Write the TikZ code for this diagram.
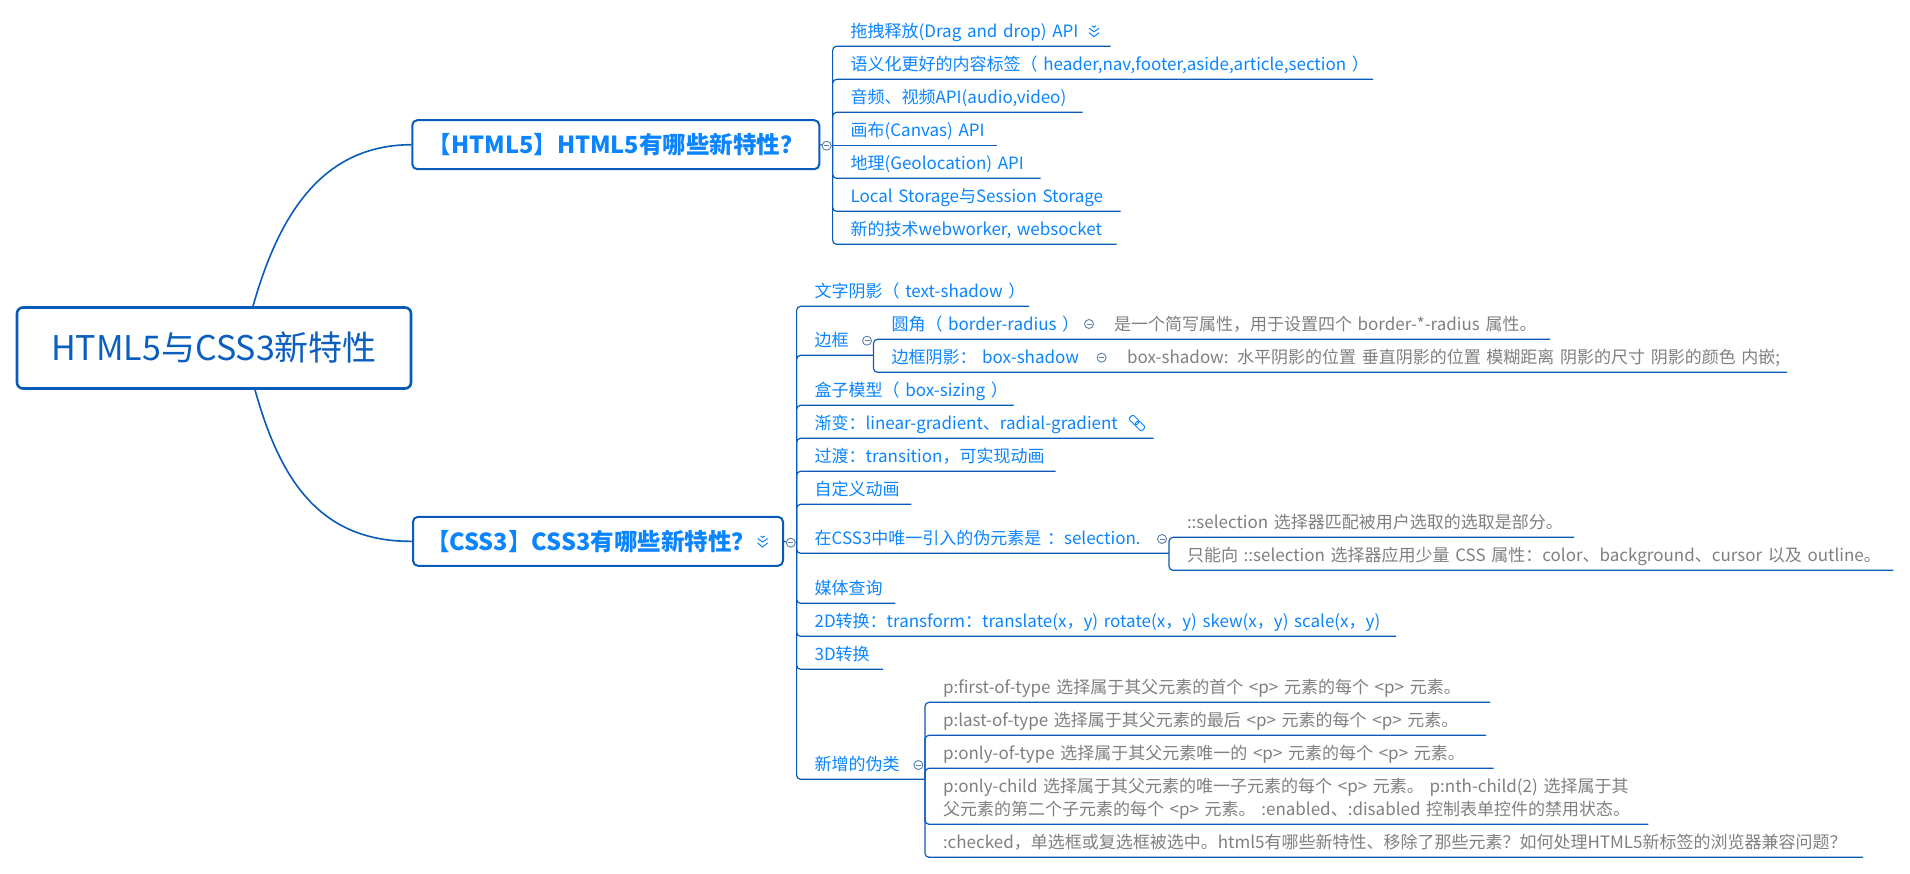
\documentclass[tikz,border=0pt]{standalone}
\usepackage{fontspec}
\setmainfont{Noto Sans CJK SC}
\usepackage{xcolor}
\usetikzlibrary{positioning,calc}
\definecolor{mapLine}{HTML}{0A5BB8}
\definecolor{mapBlue}{HTML}{0A84FF}
\definecolor{mapRoot}{HTML}{0A5EBD}
\definecolor{mapGray}{HTML}{7F7F7F}
\definecolor{mapFold}{HTML}{5B7FA8}
\tikzset{
  rootbox/.style={draw=mapLine, line width=2.6pt, rounded corners=6pt, fill=white, text=mapRoot, font=\fontsize{34}{40}\selectfont},
  topic/.style={draw=mapLine, line width=2pt, rounded corners=5pt, fill=white, text=mapBlue, font=\fontsize{23.5}{28}\bfseries\selectfont},
  stem/.style={anchor=south west, inner xsep=18pt, inner ysep=0pt, outer sep=0pt, text width=#1, align=left,
    text height=15pt, text depth=9pt, text=mapBlue, font=\fontsize{17}{23}\selectfont},
  leaf/.style={stem=#1, execute at begin node=\hbox\bgroup, execute at end node=\egroup},
  note/.style={leaf=#1, text=mapGray},
  branch/.style={draw=mapLine, line width=1.2pt, rounded corners=4pt},
  trunk/.style={draw=mapLine, line width=1.6pt},
  fold/.style={circle, draw=mapFold, fill=white, line width=0.9pt, inner sep=0pt, minimum size=9pt,
    path picture={\draw[mapFold, line width=0.9pt] ([xshift=-2.5pt]path picture bounding box.center) -- ([xshift=2.5pt]path picture bounding box.center);}},
  chevrons/.pic={
    \draw[mapBlue, line width=1pt] (-5,-3.5) -- (0,0) -- (5,-3.5);
    \draw[mapBlue, line width=1pt] (-5,1) -- (0,5) -- (5,1);
    \draw[mapBlue, line width=1pt] (-2,-6) -- (0,-4.5) -- (2,-6);
  },
}
\begin{document}
\begin{tikzpicture}[x=1pt, y=-1pt]
\useasboundingbox (0,0) rectangle (1910,873);
% main boxes
\node[rootbox, minimum width=394pt, minimum height=81pt] (root) at (214,348) {HTML5与CSS3新特性};
\node[topic, minimum width=407pt, minimum height=49pt] (html) at (615.8,144.7) {【HTML5】HTML5有哪些新特性？};
\node[topic, minimum width=370pt, minimum height=49pt] (css) at (598,541.3) {【CSS3】CSS3有哪些新特性？\kern15pt};
\draw[trunk] ([xshift=39pt]root.north) .. controls (278,218) and (320,145) .. (html.west);
\draw[trunk] ([xshift=41pt]root.south) .. controls (280,480) and (320,542) .. (css.west);
% upper group
\node[fold] (foldHtml) at (826.7,145.7) {};
\coordinate (hubHtml) at (832.6,145.3);
\node[leaf=242pt] (drag) at (832.6,46.3) {拖拽释放(Drag and drop) API};
\node[leaf=504.4pt] (semantic) at (832.6,79.3) {语义化更好的内容标签（ header,nav,footer,aside,article,section ）};
\node[leaf=214pt] (media) at (832.6,112.3) {音频、视频API(audio,video)};
\node[leaf=128pt] (canvas) at (832.6,145.3) {画布(Canvas) API};
\node[leaf=172pt] (geo) at (832.6,178.3) {地理(Geolocation) API};
\node[leaf=252pt] (storage) at (832.6,211.3) {Local Storage与Session Storage};
\node[leaf=248pt] (socket) at (832.6,244.3) {新的技术webworker, websocket};
\pic at (1094,31.7) {chevrons};
\draw[branch] (html.east) -- (foldHtml) -- (hubHtml);
\draw[branch] (hubHtml) |- (drag.south east);
\draw[branch] (hubHtml) |- (semantic.south east);
\draw[branch] (hubHtml) |- (media.south east);
\draw[branch] (hubHtml) -- (canvas.south east);
\draw[branch] (hubHtml) |- (geo.south east);
\draw[branch] (hubHtml) |- (storage.south east);
\draw[branch] (hubHtml) |- (socket.south east);
% lower group
\node[fold] (foldCss) at (790.8,542.7) {};
\coordinate (hubCss) at (796.6,542);
\pic at (762.6,542) {chevrons};
\node[leaf=196.4pt] (tshadow) at (796.6,306.3) {文字阴影（ text-shadow ）};
\node[leaf=40.9pt] (border) at (796.6,355.3) {边框};
\node[leaf=180.9pt] (boxsizing) at (796.6,405.3) {盒子模型（ box-sizing ）};
\node[leaf=320.9pt] (gradient) at (796.6,438.3) {渐变：linear-gradient、radial-gradient};
\node[leaf=222.9pt] (transition) at (796.6,471.3) {过渡：transition，可实现动画};
\node[leaf=78.8pt] (anim) at (796.6,504.3) {自定义动画};
\node[leaf=336.4pt] (selection) at (796.6,553.3) {在CSS3中唯一引入的伪元素是 ：selection.};
\node[leaf=62.7pt] (query) at (796.6,603.3) {媒体查询};
\node[leaf=563.4pt] (trans2d) at (796.6,636.3) {2D转换：transform：translate(x，y) rotate(x，y) skew(x，y) scale(x，y)};
\node[leaf=50.4pt] (trans3d) at (796.6,669.3) {3D转换};
\node[leaf=92.4pt] (pseudo) at (796.6,779.3) {新增的伪类};
\draw[branch] (css.east) -- (foldCss) -- (hubCss);
\draw[branch] (hubCss) |- (tshadow.south east);
\draw[branch] (hubCss) |- (border.south east);
\draw[branch] (hubCss) |- (boxsizing.south east);
\draw[branch] (hubCss) |- (gradient.south east);
\draw[branch] (hubCss) |- (transition.south east);
\draw[branch] (hubCss) |- (anim.south east);
\draw[branch] (hubCss) |- (selection.south east);
\draw[branch] (hubCss) |- (query.south east);
\draw[branch] (hubCss) |- (trans2d.south east);
\draw[branch] (hubCss) |- (trans3d.south east);
\draw[branch] (hubCss) |- (pseudo.south east);
% link icon next to the gradient item
\begin{scope}[shift={(1137,423)}, rotate=-45]
\draw[mapBlue, line width=1pt, rounded corners=2pt] (-9,-3) rectangle (1,3);
\draw[mapBlue, line width=1pt, rounded corners=2pt] (-1,-3) rectangle (9,3);
\end{scope}
% border children
\node[fold] (foldBorder) at (867,340.7) {};
\node[leaf=160pt] (radius) at (873.5,339.3) {圆角（ border-radius ）};
\node[fold] (foldRadius) at (1089,324) {};
\node[note=418pt] (radiusNote) at (1096,339.3) {是一个简写属性，用于设置四个 border-*-radius 属性。};
\node[leaf=190pt] (shadow) at (873.5,372.3) {边框阴影： box-shadow};
\node[fold] (foldShadow) at (1101.6,357.7) {};
\node[note=642pt] (shadowNote) at (1109,372.3) {box-shadow: 水平阴影的位置 垂直阴影的位置 模糊距离 阴影的尺寸 阴影的颜色 内嵌;};
\draw[branch] (border.south east) |- (radiusNote.south east);
\draw[branch] (border.south east) |- (shadowNote.south east);
% selection children
\node[fold] (foldSel) at (1162,539) {};
\node[note=369pt] (selA) at (1169,537.3) {::selection 选择器匹配被用户选取的选取是部分。};
\node[note=688.4pt] (selB) at (1169,570.3) {只能向 ::selection 选择器应用少量 CSS 属性：color、background、cursor 以及 outline。};
\draw[branch] (selection.south east) |- (selA.south east);
\draw[branch] (selection.south east) |- (selB.south east);
% pseudo class children
\node[fold] (foldPseudo) at (918.4,765) {};
\node[note=529pt] (pA) at (925,702.3) {p:first-of-type 选择属于其父元素的首个 <p> 元素的每个 <p> 元素。};
\node[note=525pt] (pB) at (925,735.3) {p:last-of-type 选择属于其父元素的最后 <p> 元素的每个 <p> 元素。};
\node[note=532.5pt] (pC) at (925,768.3) {p:only-of-type 选择属于其父元素唯一的 <p> 元素的每个 <p> 元素。};
\node[stem=687.4pt, text=mapGray, text depth=31.5pt] (pD) at (925,824.3) {p:only-child 选择属于其父元素的唯一子元素的每个 <p> 元素。 p:nth-child(2) 选择属于其\\父元素的第二个子元素的每个 <p> 元素。 :enabled、:disabled 控制表单控件的禁用状态。};
\node[note=902pt] (pE) at (925,857.3) {:checked，单选框或复选框被选中。html5有哪些新特性、移除了那些元素？如何处理HTML5新标签的浏览器兼容问题？};
\draw[branch] (pseudo.south east) |- (pA.south east);
\draw[branch] (pseudo.south east) |- (pB.south east);
\draw[branch] (pseudo.south east) |- (pC.south east);
\draw[branch] (pseudo.south east) |- (pD.south east);
\draw[branch] (pseudo.south east) |- (pE.south east);
\end{tikzpicture}
\end{document}
